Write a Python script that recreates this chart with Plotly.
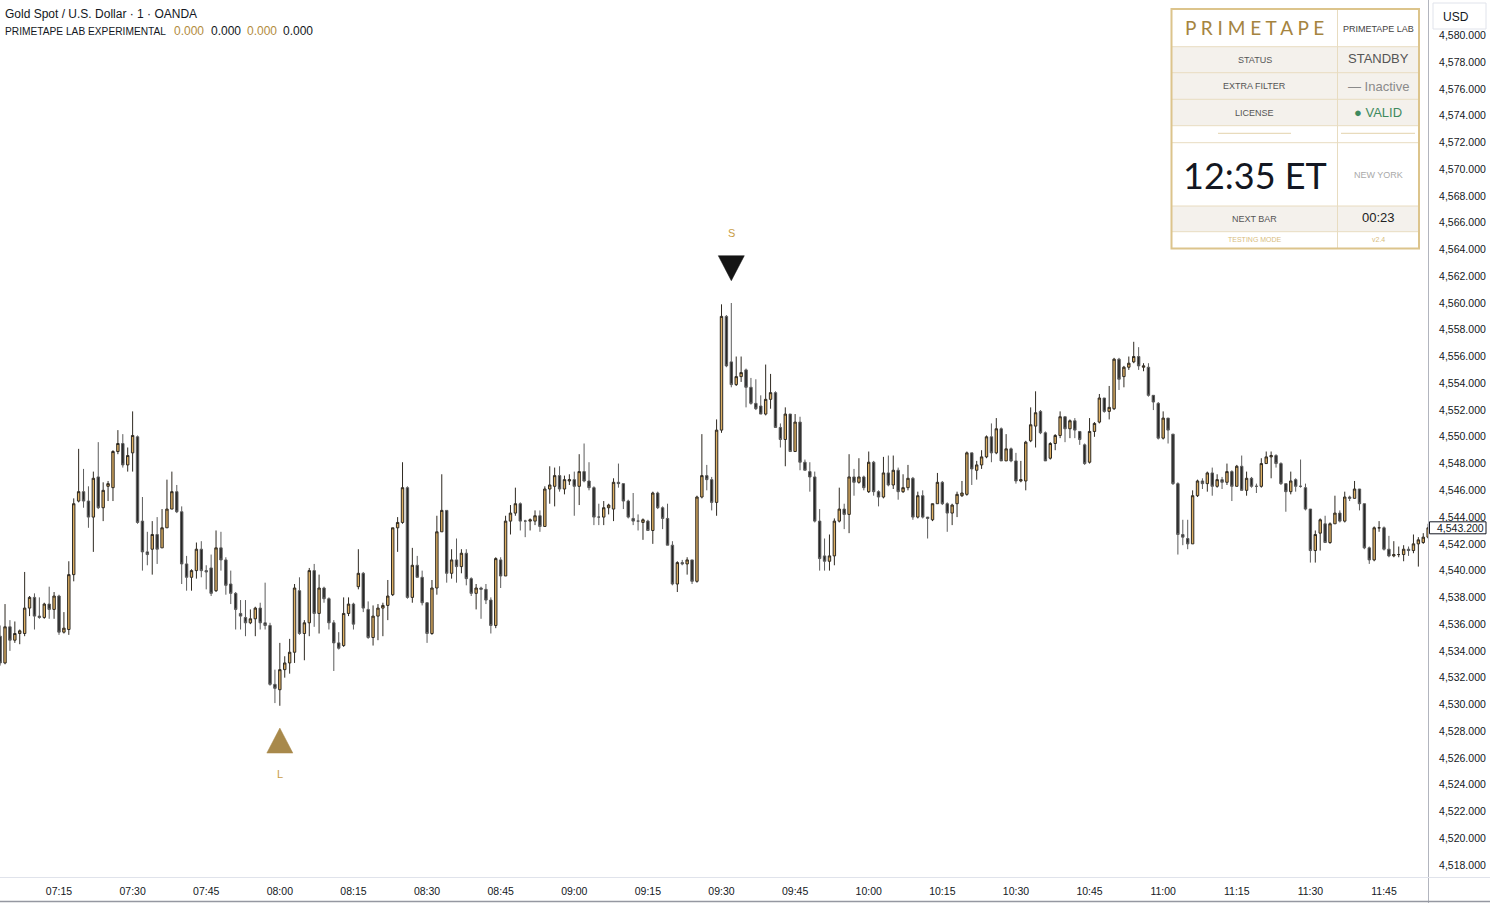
import plotly.graph_objects as go
import pandas as pd

# ---------------- data ----------------
start_time = "2025-12-26 07:03"

opens = [
4535.1,4533.1,4535.8,4534.8,4535.3,4535.3,4537.2,4538.0,4536.6,4536.5,
4537.5,4537.1,4538.1,4535.4,4535.6,4539.7,4545.2,4545.9,4545.2,4544.0,
4547.0,4544.7,4546.3,4546.2,4548.9,4549.5,4547.9,4548.8,4550.0,4543.7,
4541.4,4541.6,4542.7,4541.7,4543.2,4544.6,4545.9,4544.4,4540.5,4539.5,
4540.0,4541.6,4540.0,4540.2,4538.5,4541.7,4540.8,4539.0,4538.3,4536.8,
4536.5,4536.1,4536.4,4537.2,4536.1,4535.9,4531.5,4531.1,4532.6,4533.1,
4533.9,4538.5,4535.3,4536.1,4540.0,4536.8,4538.7,4537.9,4536.1,4534.6,
4534.4,4536.8,4537.5,4538.8,4539.8,4537.1,4535.0,4536.6,4537.2,4537.4,
4538.2,4543.2,4543.6,4546.2,4538.0,4540.4,4539.5,4537.6,4535.3,4538.7,
4542.9,4544.5,4539.8,4540.8,4540.3,4541.3,4539.4,4538.3,4538.7,4538.6,
4537.8,4535.9,4540.8,4539.6,4543.7,4544.3,4545.0,4543.7,4543.7,4543.7,
4544.1,4543.3,4546.1,4546.3,4547.1,4546.1,4546.7,4546.8,4546.3,4547.4,
4546.7,4546.2,4544.0,4544.0,4544.7,4544.6,4546.6,4546.5,4545.2,4543.9,
4543.7,4543.6,4543.7,4543.0,4545.8,4544.7,4543.9,4541.9,4539.0,4540.6,
4540.5,4540.8,4539.2,4545.5,4547.1,4546.8,4545.1,4550.5,4559.0,4555.6,
4553.9,4554.5,4555.0,4553.7,4552.5,4552.3,4551.7,4552.8,4553.3,4550.7,
4549.8,4551.7,4548.9,4551.1,4548.1,4547.4,4547.0,4543.7,4541.1,4540.7,
4541.1,4543.7,4544.6,4544.2,4547.0,4546.6,4547.0,4545.9,4548.1,4545.9,
4545.5,4547.3,4546.4,4547.5,4545.9,4546.2,4546.9,4544.0,4545.6,4544.0,
4543.8,4545.0,4546.6,4545.0,4544.3,4545.0,4545.6,4545.7,4548.8,4547.5,
4547.9,4548.5,4550.0,4548.8,4550.6,4548.2,4549.1,4548.2,4546.7,4546.7,
4549.7,4550.8,4551.9,4550.3,4548.4,4549.5,4550.1,4551.5,4550.6,4551.2,
4550.4,4549.4,4548.1,4550.4,4551.1,4552.9,4551.9,4552.1,4555.8,4554.5,
4555.2,4555.6,4556.0,4555.2,4555.2,4553.1,4552.5,4549.9,4551.4,4550.2,
4546.5,4542.7,4542.4,4542.0,4545.6,4546.7,4546.5,4547.3,4546.3,4546.8,
4546.6,4547.4,4546.3,4547.8,4546.0,4546.9,4546.3,4546.3,4548.0,4548.5,
4548.6,4548.0,4546.5,4545.9,4546.8,4546.3,4546.2,4544.6,4541.5,4542.8,
4543.5,4542.1,4543.5,4544.3,4543.7,4545.5,4545.4,4546.1,4545.0,4541.7,
4540.8,4543.2,4543.2,4541.6,4541.1,4541.2,4541.2,4541.6,4541.5,4542.0,
4542.1,4542.5]

highs = [
4535.9,4537.5,4536.3,4536.2,4535.6,4539.9,4538.1,4538.3,4538.0,4537.6,
4538.8,4538.4,4538.2,4536.9,4540.7,4545.4,4549.1,4547.6,4546.3,4547.4,
4549.6,4546.6,4546.7,4549.0,4550.5,4550.2,4549.2,4551.9,4550.1,4545.5,
4542.9,4543.7,4544.0,4544.6,4546.8,4547.4,4546.4,4544.8,4541.1,4540.1,
4542.1,4542.2,4540.4,4541.2,4543.0,4542.9,4541.0,4540.0,4538.4,4537.8,
4537.8,4537.1,4537.3,4537.6,4539.1,4536.1,4532.6,4534.6,4533.6,4534.9,
4539.0,4539.5,4536.3,4540.2,4540.5,4539.7,4538.8,4538.0,4536.3,4535.4,
4538.0,4538.0,4537.6,4541.6,4539.9,4537.7,4537.4,4537.5,4537.6,4539.3,
4543.2,4544.0,4548.1,4546.3,4541.7,4541.1,4540.0,4537.6,4539.3,4544.1,
4547.2,4544.5,4541.6,4542.4,4541.6,4541.6,4539.5,4539.0,4538.8,4539.0,
4538.0,4541.0,4541.0,4544.1,4544.9,4546.2,4545.1,4543.8,4543.9,4544.5,
4544.5,4546.3,4547.8,4547.7,4547.8,4547.1,4547.2,4547.4,4548.7,4549.5,
4548.1,4546.3,4545.0,4545.2,4545.0,4546.9,4548.0,4546.5,4545.3,4545.8,
4544.2,4543.9,4543.8,4545.9,4545.9,4544.8,4545.0,4542.2,4540.7,4540.8,
4541.0,4540.8,4545.6,4550.2,4547.9,4547.0,4551.3,4559.9,4559.1,4560.0,
4556.0,4556.0,4555.1,4554.4,4554.3,4553.1,4555.4,4554.7,4553.4,4551.0,
4552.2,4551.7,4551.7,4551.5,4548.3,4548.1,4547.4,4544.6,4542.4,4542.7,
4543.9,4546.2,4545.0,4548.7,4547.6,4548.4,4547.1,4548.9,4548.2,4546.0,
4548.5,4548.6,4548.6,4547.7,4547.2,4547.9,4547.0,4545.9,4546.0,4544.0,
4545.0,4547.3,4546.7,4545.1,4545.0,4545.9,4546.7,4548.9,4548.8,4548.2,
4549.0,4550.1,4551.0,4551.4,4550.7,4550.2,4549.2,4548.8,4548.2,4549.7,
4552.2,4553.4,4552.0,4550.4,4549.6,4550.2,4551.9,4551.5,4551.3,4551.4,
4550.4,4549.5,4551.4,4551.1,4553.2,4552.9,4553.8,4555.9,4555.9,4555.3,
4556.0,4557.1,4556.7,4555.5,4555.5,4553.1,4552.6,4551.9,4551.4,4550.2,
4546.6,4543.8,4543.8,4546.0,4546.8,4546.9,4547.4,4547.7,4547.2,4547.0,
4548.0,4547.5,4547.9,4548.6,4547.4,4547.0,4546.5,4548.4,4548.9,4548.9,
4548.7,4548.1,4546.5,4547.4,4546.9,4548.3,4546.5,4544.6,4543.0,4543.9,
4544.1,4543.6,4545.6,4544.5,4545.9,4545.6,4546.7,4546.1,4545.0,4541.8,
4543.3,4543.7,4543.3,4542.6,4542.2,4541.8,4541.9,4541.8,4542.7,4542.5,
4542.8,4543.5]

lows = [
4532.9,4533.0,4534.0,4534.6,4534.5,4535.1,4536.6,4535.6,4536.4,4536.4,
4536.4,4536.4,4535.2,4535.3,4535.2,4539.2,4545.1,4544.7,4543.2,4541.4,
4544.6,4543.7,4545.2,4545.2,4548.7,4547.7,4547.4,4547.4,4543.5,4540.0,
4540.4,4539.7,4540.5,4541.7,4543.2,4544.6,4544.3,4539.0,4538.5,4538.5,
4539.4,4539.5,4538.6,4538.1,4538.4,4540.0,4538.2,4537.5,4535.6,4535.6,
4535.1,4536.0,4535.1,4535.6,4535.6,4531.4,4530.1,4529.9,4532.0,4532.3,
4533.1,4535.2,4533.3,4535.1,4535.8,4535.3,4537.6,4535.6,4532.5,4534.1,
4534.3,4536.6,4535.6,4538.6,4536.9,4534.9,4534.4,4534.8,4535.1,4536.3,
4538.1,4541.4,4543.5,4537.9,4537.6,4539.5,4537.4,4534.6,4535.2,4538.2,
4542.9,4539.1,4539.4,4539.1,4539.8,4538.9,4538.1,4537.1,4536.4,4537.5,
4535.3,4535.7,4538.7,4539.6,4542.7,4544.1,4543.0,4542.5,4543.0,4543.4,
4542.9,4543.3,4545.0,4544.8,4545.9,4545.7,4546.4,4544.1,4544.9,4546.6,
4546.0,4543.4,4543.4,4543.4,4544.2,4543.7,4546.2,4544.6,4543.9,4543.4,
4543.0,4542.3,4543.0,4542.0,4544.6,4543.1,4541.9,4538.9,4538.4,4540.4,
4539.7,4539.0,4539.1,4545.4,4546.0,4544.5,4544.1,4550.3,4555.2,4553.7,
4553.8,4554.1,4552.2,4552.4,4552.0,4551.7,4551.6,4552.1,4550.7,4549.2,
4547.8,4548.9,4548.9,4547.5,4547.5,4545.9,4543.6,4540.0,4540.0,4540.0,
4540.4,4543.6,4543.1,4542.8,4545.6,4546.5,4546.0,4545.8,4545.6,4544.8,
4545.4,4546.3,4546.1,4545.3,4545.8,4546.0,4543.8,4543.9,4543.9,4542.4,
4543.7,4545.0,4544.9,4542.9,4543.4,4544.0,4545.5,4545.6,4546.4,4546.8,
4547.6,4548.4,4548.1,4548.7,4548.2,4548.2,4548.1,4546.5,4546.6,4546.0,
4549.6,4549.2,4550.2,4548.2,4548.3,4549.0,4549.9,4549.6,4549.9,4549.9,
4549.4,4547.9,4548.0,4550.0,4551.0,4551.8,4551.3,4552.0,4553.5,4553.7,
4555.0,4555.5,4555.0,4554.9,4553.0,4552.0,4549.8,4549.8,4549.5,4546.4,
4541.2,4541.9,4541.6,4542.0,4545.5,4546.1,4545.9,4545.6,4546.2,4546.1,
4546.4,4545.2,4546.3,4546.0,4545.6,4546.2,4545.8,4546.2,4548.0,4546.9,
4547.7,4546.4,4544.4,4545.7,4545.9,4546.2,4544.5,4540.6,4540.6,4541.5,
4542.1,4542.0,4543.5,4543.6,4543.6,4545.2,4545.4,4544.5,4541.6,4540.5,
4540.7,4542.9,4541.5,4541.0,4541.0,4541.0,4540.7,4541.1,4541.3,4540.3,
4542.0,4542.4]

closes = [
4533.1,4535.8,4534.8,4535.3,4535.5,4537.2,4538.0,4536.6,4536.5,4537.5,
4537.1,4538.1,4535.4,4535.7,4539.7,4545.0,4545.9,4545.2,4544.0,4546.9,
4544.7,4546.0,4546.5,4548.9,4549.5,4547.9,4548.6,4550.1,4543.6,4541.4,
4541.2,4542.7,4541.6,4543.2,4544.6,4545.9,4544.4,4540.5,4539.5,4540.0,
4541.6,4540.0,4539.9,4538.3,4541.7,4540.8,4538.9,4538.3,4537.1,4536.6,
4536.1,4536.4,4537.2,4536.1,4535.9,4531.5,4531.2,4532.6,4533.1,4533.9,
4538.7,4535.3,4536.1,4540.0,4536.8,4538.7,4537.9,4536.1,4534.6,4534.2,
4536.8,4537.5,4536.0,4539.8,4537.2,4535.0,4536.6,4537.2,4537.4,4538.1,
4543.2,4543.6,4546.2,4538.0,4540.4,4539.5,4537.6,4535.3,4538.7,4542.9,
4544.5,4539.8,4540.8,4540.3,4541.3,4539.4,4538.3,4538.7,4538.6,4537.8,
4535.9,4540.9,4539.6,4543.7,4544.3,4545.0,4543.7,4543.7,4543.8,4544.1,
4543.3,4546.1,4546.4,4547.1,4546.1,4546.8,4546.8,4546.3,4547.4,4546.7,
4546.2,4544.0,4544.0,4544.7,4544.9,4546.6,4546.5,4545.2,4544.0,4543.7,
4543.7,4543.8,4543.0,4545.8,4544.7,4543.9,4541.9,4539.0,4540.6,4540.5,
4540.8,4539.2,4545.5,4547.1,4546.8,4545.1,4550.5,4559.0,4555.3,4553.9,
4554.5,4554.8,4553.7,4552.5,4552.1,4551.7,4552.8,4553.3,4550.7,4549.8,
4551.7,4548.9,4551.1,4548.1,4547.5,4547.0,4543.7,4540.9,4540.7,4541.1,
4543.7,4544.6,4544.2,4547.0,4546.6,4547.0,4546.2,4548.1,4545.9,4545.5,
4547.3,4546.4,4547.5,4545.9,4546.2,4546.9,4544.0,4545.6,4544.0,4543.9,
4545.0,4546.6,4545.0,4544.3,4544.9,4545.7,4545.8,4548.8,4547.6,4547.9,
4548.5,4550.0,4548.8,4550.6,4548.2,4549.1,4548.2,4546.7,4546.8,4549.6,
4550.9,4551.8,4550.3,4548.2,4549.5,4550.1,4551.5,4550.6,4551.2,4550.5,
4549.8,4548.0,4550.4,4551.0,4552.9,4551.9,4552.2,4555.8,4554.3,4555.2,
4555.5,4556.0,4555.3,4555.3,4553.1,4552.6,4549.9,4551.4,4550.5,4546.5,
4542.7,4542.5,4542.0,4545.6,4546.7,4546.5,4547.3,4546.3,4546.8,4546.6,
4547.4,4546.3,4547.8,4546.0,4546.9,4546.3,4546.3,4548.0,4548.5,4548.6,
4548.0,4546.5,4545.9,4546.7,4546.3,4546.3,4544.6,4541.5,4542.7,4543.8,
4542.1,4543.5,4544.3,4543.7,4545.5,4545.4,4546.1,4545.0,4541.7,4540.8,
4543.2,4543.2,4541.6,4541.1,4541.2,4541.2,4541.6,4541.5,4542.0,4542.3,
4542.5,4543.2]

price_ticks = [4518 + 2 * i for i in range(32)]
time_tick_labels = ["07:15", "07:30", "07:45", "08:00", "08:15", "08:30", "08:45", "09:00",
                    "09:15", "09:30", "09:45", "10:00", "10:15", "10:30", "10:45", "11:00",
                    "11:15", "11:30", "11:45"]
short_signal_index = 149   # "S" marker above this bar
long_signal_index = 57     # "L" marker below this bar
last_price = 4543.2
indicator_values = ["0.000", "0.000", "0.000", "0.000"]

# safety: keep wicks enclosing bodies
highs = [max(h, o, c) for h, o, c in zip(highs, opens, closes)]
lows = [min(l, o, c) for l, o, c in zip(lows, opens, closes)]

times = pd.date_range(start_time, periods=len(closes), freq="1min")
day = start_time.split(" ")[0]
tick_vals = [pd.Timestamp(f"{day} {t}") for t in time_tick_labels]

# ---------------- geometry ----------------
W, H = 1490, 903
PW, PH = 1428, 878           # plot area in pixels
PX_PER_MIN = 1325 / 270.0
t0 = pd.Timestamp(f"{day} 07:15")
x_left = t0 - pd.Timedelta(minutes=59 / PX_PER_MIN)
x_right = t0 + pd.Timedelta(minutes=(PW - 59) / PX_PER_MIN)
PX_PER_USD = 562 / 42.0
y_top = 4560 + 303 / PX_PER_USD
y_bot = 4560 - (PH - 303) / PX_PER_USD


def X(px):
    return px / PW


def Y(py):
    return 1 - py / PH


FONT = "Liberation Sans, Arial, sans-serif"
GOLD_TXT = "#b38c3d"

fig = go.Figure()
fig.add_trace(go.Candlestick(
    x=times, open=opens, high=highs, low=lows, close=closes,
    increasing=dict(line=dict(color="#2f2a22", width=1), fillcolor="#dcae62"),
    decreasing=dict(line=dict(color="#5c5c5c", width=1), fillcolor="#262626"),
    whiskerwidth=0, hoverinfo="skip", showlegend=False,
))


def triangle(idx, price, down, color):
    half_w = pd.Timedelta(minutes=13 / PX_PER_MIN)
    half_h = 12.5 / PX_PER_USD
    t = times[idx]
    xs = [t - half_w, t + half_w, t, t - half_w]
    if down:
        ys = [price + half_h, price + half_h, price - half_h, price + half_h]
    else:
        ys = [price - half_h, price - half_h, price + half_h, price - half_h]
    fig.add_trace(go.Scatter(x=xs, y=ys, mode="lines", fill="toself", fillcolor=color,
                             line=dict(color=color, width=0.5), hoverinfo="skip",
                             showlegend=False))


triangle(short_signal_index, highs[short_signal_index] + 2.6, True, "#141414")
triangle(long_signal_index, lows[long_signal_index] - 2.6, False, "#a8894b")
fig.add_annotation(x=times[short_signal_index], y=highs[short_signal_index] + 5.2,
                   text="S", showarrow=False, yanchor="middle",
                   font=dict(family=FONT, size=11, color="#c99d45"))
fig.add_annotation(x=times[long_signal_index], y=lows[long_signal_index] - 5.1,
                   text="L", showarrow=False, yanchor="middle",
                   font=dict(family=FONT, size=11, color="#c99d45"))

shapes = []
annotations = []


def text(px, py, s, size, color, xanchor="left", family=FONT):
    annotations.append(dict(xref="paper", yref="paper", x=X(px), y=Y(py), text=s,
                            showarrow=False, xanchor=xanchor, yanchor="middle",
                            font=dict(family=family, size=size, color=color)))


# axis frame lines
shapes.append(dict(type="line", xref="paper", yref="paper", x0=X(1428.5), x1=X(1428.5),
                   y0=Y(903), y1=Y(0), line=dict(color="#b2b5be", width=1)))
shapes.append(dict(type="line", xref="paper", yref="paper", x0=X(0), x1=X(1490),
                   y0=Y(877.5), y1=Y(877.5), line=dict(color="#e0e3eb", width=1)))
shapes.append(dict(type="line", xref="paper", yref="paper", x0=X(0), x1=X(1490),
                   y0=Y(901.5), y1=Y(901.5), line=dict(color="#9598a1", width=1.5)))

# USD box
shapes.append(dict(type="rect", xref="paper", yref="paper", x0=X(1433), x1=X(1486),
                   y0=Y(29), y1=Y(3), fillcolor="white", line=dict(color="#e0e3eb", width=1)))
text(1441, 17, "USD", 12, "#131722")

# last price label
lp_py = 303 + (4560 - last_price) * PX_PER_USD
shapes.append(dict(type="rect", xref="paper", yref="paper", x0=X(1429.5), x1=X(1486),
                   y0=Y(lp_py + 6), y1=Y(lp_py - 6), fillcolor="white",
                   line=dict(color="#131722", width=1)))
text(1435, lp_py, f"{last_price:,.3f}", 10.5, "#131722")

# header text
text(3, 14.5, "Gold Spot / U.S. Dollar · 1 · OANDA", 12, "#131722")
text(3, 31.5, "PRIMETAPE LAB EXPERIMENTAL", 10.2, "#131722")
for i, (xv, val) in enumerate(zip((172, 209, 245, 281), indicator_values)):
    text(xv, 31.5, val, 12, GOLD_TXT if i % 2 == 0 else "#131722")

# ---------------- info table ----------------
TL, TR, TM = 1171.5, 1419, 1337.5
rows = [9, 46.7, 72.7, 99.3, 125.7, 142.7, 206, 231.7, 248.5]
BEIGE = "#f4f1ec"
GRID = "#e8dcc0"
for r in (1, 2, 3, 6):
    shapes.append(dict(type="rect", xref="paper", yref="paper", x0=X(TL), x1=X(TR),
                       y0=Y(rows[r + 1]), y1=Y(rows[r]), fillcolor=BEIGE, line=dict(width=0), layer="above"))
for r in (0, 4, 5, 7):
    shapes.append(dict(type="rect", xref="paper", yref="paper", x0=X(TL), x1=X(TR),
                       y0=Y(rows[r + 1]), y1=Y(rows[r]), fillcolor="white", line=dict(width=0), layer="above"))
for ry in rows[1:-1]:
    shapes.append(dict(type="line", xref="paper", yref="paper", x0=X(TL), x1=X(TR),
                       y0=Y(ry), y1=Y(ry), line=dict(color=GRID, width=1), layer="above"))
shapes.append(dict(type="line", xref="paper", yref="paper", x0=X(TM), x1=X(TM),
                   y0=Y(rows[-1]), y1=Y(rows[0]), line=dict(color=GRID, width=1), layer="above"))
shapes.append(dict(type="rect", xref="paper", yref="paper", x0=X(TL), x1=X(TR),
                   y0=Y(rows[-1]), y1=Y(rows[0]), line=dict(color="#dcc48c", width=2), layer="above"))
# separator dashes in row 4
for a, b in ((1218, 1291), (1341, 1415)):
    shapes.append(dict(type="line", xref="paper", yref="paper", x0=X(a), x1=X(b),
                       y0=Y(133.3), y1=Y(133.3), line=dict(color="#e3d3ac", width=1), layer="above"))

LC = (TL + TM) / 2
RC = (TM + TR) / 2


def cell(xc, yc, s, size, color, family=FONT):
    text(xc, yc, s, size, color, xanchor="center", family=family)


cell(LC, 28, "P R I M E T A P E", 19, "#a5843f", "Lato, sans-serif")
cell(RC, 28.5, "PRIMETAPE LAB", 9, "#444444")
cell(LC, 60, "STATUS", 9, "#555555")
cell(RC, 59, "STANDBY", 13, "#555555")
cell(LC, 86.5, "EXTRA FILTER", 9, "#555555")
cell(RC, 86, "— Inactive", 13, "#8a8a8a")
cell(LC, 113, "LICENSE", 9, "#555555")
cell(RC, 112.5, "● VALID", 13, "#3e8a5e")
cell(LC, 174.5, "12:35 ET", 36, "#131722", "Lato, sans-serif")
cell(RC, 174.5, "NEW YORK", 9, "#a9a9a9")
cell(LC, 219, "NEXT BAR", 9, "#555555")
cell(RC, 218, "00:23", 13, "#222222")
cell(LC, 240, "TESTING MODE", 7, "#d8bd7e")
cell(RC, 240, "v2.4", 7, "#d8bd7e")

fig.update_layout(
    width=W, height=H,
    margin=dict(l=0, r=W - PW, t=0, b=H - PH),
    paper_bgcolor="white", plot_bgcolor="white",
    shapes=shapes, annotations=list(fig.layout.annotations) + annotations,
    showlegend=False,
    font=dict(family=FONT, color="#131722"),
)
fig.update_xaxes(
    type="date", range=[x_left, x_right], rangeslider=dict(visible=False),
    tickmode="array", tickvals=tick_vals, ticktext=time_tick_labels,
    showgrid=False, zeroline=False, showline=False, ticks="outside", ticklen=3,
    tickcolor="rgba(0,0,0,0)",
    tickfont=dict(family=FONT, size=10.5, color="#131722"),
)
fig.update_yaxes(
    side="right", range=[y_bot, y_top], tickmode="array", tickvals=price_ticks,
    ticktext=[f"{v:,.3f}" for v in price_ticks],
    showgrid=False, zeroline=False, showline=False, ticks="outside", ticklen=8,
    tickcolor="rgba(0,0,0,0)", tickfont=dict(family=FONT, size=10.5, color="#131722"),
)

fig.write_html("out.html")
